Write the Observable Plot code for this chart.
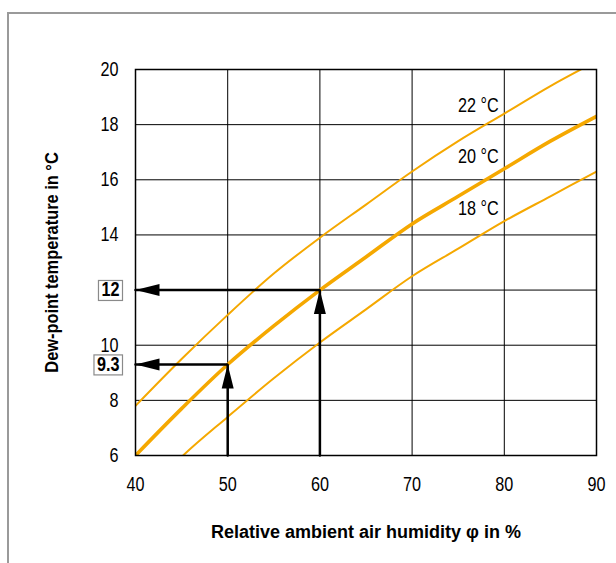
<!DOCTYPE html>
<html>
<head>
<meta charset="utf-8">
<script src="https://cdn.jsdelivr.net/npm/d3@7"></script>
<script src="https://cdn.jsdelivr.net/npm/@observablehq/plot@0.6"></script>
<style>
  html, body { margin: 0; padding: 0; background: white; }
  #wrap { position: relative; width: 616px; height: 563px; overflow: hidden; }
  #border { position: absolute; left: 7px; top: 12px; right: -5px; bottom: -5px;
            border-top: 2px solid #9a9a9a; border-left: 2px solid #9a9a9a; pointer-events: none; }
  svg text { font-family: "Liberation Sans Narrow", "Liberation Sans", Arial, sans-serif; }
  g[aria-label="y-axis label"] text, g[aria-label="x-axis label"] text { font-weight: bold; font-size: 18px; }
</style>
</head>
<body>
<div id="wrap"><div id="border"></div></div>
<script>
const humidity = [40, 45, 50, 55, 60, 65, 70, 75, 80, 85, 90];
const dew22 = [7.8, 9.5, 11.1, 12.6, 13.9, 15.1, 16.3, 17.4, 18.4, 19.4, 20.3];
const dew20 = [6.0, 7.7, 9.3, 10.7, 12.0, 13.2, 14.4, 15.4, 16.4, 17.4, 18.3];
const dew18 = [4.2, 5.95, 7.4, 8.8, 10.1, 11.3, 12.5, 13.5, 14.5, 15.4, 16.3];

const seriesNames = ["22 °C", "20 °C", "18 °C"];
const seriesValues = [dew22, dew20, dew18];
const seriesWidths = [2, 3.6, 2];
const labelPhi = [79.4, 79.4, 79.4];
const labelDew = [18.7, 16.85, 14.95];

const xTicks = [40, 50, 60, 70, 80, 90];
const yTicks = [6, 8, 10, 12, 14, 16, 18, 20];
const yTickLabels = [6, 8, 10, 14, 16, 18, 20];

const readPhi = [60, 50];
const readDew = [12, 9.3];
const readText = ["12", "9.3"];

const curves = seriesNames.map((name, i) =>
  humidity.map((h, j) => ({series: name, phi: h, dew: seriesValues[i][j]})));

const shafts = readPhi.flatMap((p, i) => [
  {id: i, phi: p, dew: 6},
  {id: i, phi: p, dew: readDew[i]},
  {id: i, phi: 40, dew: readDew[i]}
]);
const headsUp = readPhi.map((p, i) => ({phi: p, dew: readDew[i]}));
const headsLeft = readPhi.map((p, i) => ({phi: 40, dew: readDew[i]}));
const boxed = readText.map((t, i) => ({dew: readDew[i], text: t}));
const curveLabels = seriesNames.map((n, i) => ({phi: labelPhi[i], dew: labelDew[i], text: n}));

const arrowLeft = {draw(ctx) { ctx.moveTo(0, 0); ctx.lineTo(24, -6); ctx.lineTo(24, 6); ctx.closePath(); }};
const arrowUp = {draw(ctx) { ctx.moveTo(0, 0); ctx.lineTo(-6, 24); ctx.lineTo(6, 24); ctx.closePath(); }};

const orange = "#f5a800";

const chart = Plot.plot({
  width: 616,
  height: 563,
  marginLeft: 135,
  marginRight: 20,
  marginTop: 69,
  marginBottom: 108,
  style: {fontSize: "20px", background: "transparent"},
  x: {domain: [40, 90]},
  y: {domain: [6, 20]},
  marks: [
    Plot.gridX({ticks: xTicks, stroke: "black", strokeOpacity: 1, strokeWidth: 1}),
    Plot.gridY({ticks: yTicks, stroke: "black", strokeOpacity: 1, strokeWidth: 1}),
    ...curves.map((c, i) => Plot.line(c, {x: "phi", y: "dew", stroke: orange, strokeWidth: seriesWidths[i], curve: "catmull-rom", clip: true})),
    Plot.line(shafts, {x: "phi", y: "dew", z: "id", stroke: "black", strokeWidth: 2.5, strokeLinejoin: "miter"}),
    Plot.dot(headsUp, {x: "phi", y: "dew", symbol: arrowUp, fill: "black", stroke: "none", r: 5}),
    Plot.dot(headsLeft, {x: "phi", y: "dew", symbol: arrowLeft, fill: "black", stroke: "none", r: 5}),
    Plot.frame({stroke: "black", strokeWidth: 1.5}),
    Plot.text(curveLabels, {x: "phi", y: "dew", text: "text", textAnchor: "end", fontSize: 20, fill: "black"}),
    Plot.axisX({ticks: xTicks, tickSize: 0, tickPadding: 21, fontSize: 20, label: "Relative ambient air humidity φ in %", labelAnchor: "center", labelOffset: 82, labelArrow: "none"}),
    Plot.axisY({ticks: yTickLabels, tickSize: 0, tickPadding: 17, fontSize: 20, label: "Dew-point temperature in °C", labelAnchor: "center", labelOffset: 90, labelArrow: "none"}),
    Plot.text(boxed, {x: 40, y: "dew", text: "text", textAnchor: "end", dx: -16, fontWeight: "bold", fontSize: 20, fill: "black"})
  ]
});

document.getElementById("wrap").prepend(chart);

// condense glyphs to mimic the narrow typeface of the original
d3.select(chart).selectAll("text").each(function() {
  let f = 0.81;
  if (this.closest('g[aria-label="x-axis label"]')) f = 1.0;
  else if (this.closest('g[aria-label="y-axis label"]')) f = 0.91;
  const len = this.getComputedTextLength();
  if (len > 0) {
    this.setAttribute("textLength", len * f);
    this.setAttribute("lengthAdjust", "spacingAndGlyphs");
  }
});

// draw a thin box behind each boxed reading label
d3.select(chart).selectAll("text")
  .filter(function() {
    const g = this.parentNode;
    return readText.includes(this.textContent) && g && g.getAttribute("font-weight") === "bold";
  })
  .each(function() {
    const bb = this.getBBox();
    const t = this.getAttribute("transform");
    d3.select(this.parentNode).insert("rect", () => this)
      .attr("transform", t)
      .attr("x", bb.x - 3).attr("y", bb.y + 2)
      .attr("width", bb.width + 6).attr("height", bb.height - 2)
      .attr("fill", "white").attr("stroke", "#8a8a8a").attr("stroke-width", 1.2);
  });
</script>
</body>
</html>
